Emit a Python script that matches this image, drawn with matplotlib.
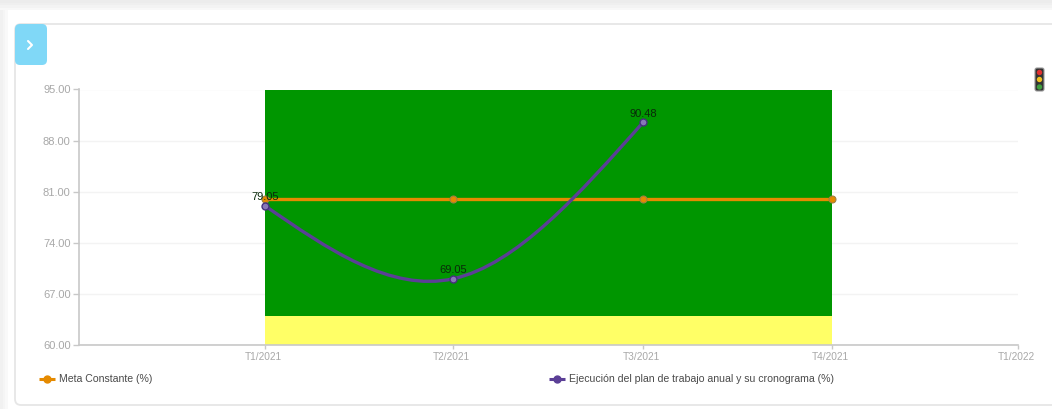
import matplotlib
matplotlib.use("Agg")
import matplotlib.pyplot as plt
import numpy as np
from matplotlib.patches import FancyBboxPatch, Rectangle, Circle
from matplotlib.path import Path
from matplotlib.patches import PathPatch
from matplotlib.transforms import ScaledTranslation

plt.rcParams['font.family'] = ['Liberation Sans', 'DejaVu Sans']

W, H = 1052, 409

quarters = ["T1/2021", "T2/2021", "T3/2021", "T4/2021", "T1/2022"]
quarter_pos = [1.0, 1.995, 3.0, 4.0, 4.985]
y_ticks = [60, 67, 74, 81, 88, 95]
meta_values = [80, 80, 80, 80]
ejecucion_values = [79.05, 69.05, 90.48]
ejecucion_labels = ["79.05", "69.05", "90.48"]
band_yellow = (60, 64)
band_green = (64, 95)
meta_name = "Meta Constante (%)"
ejecucion_name = "Ejecución del plan de trabajo anual y su cronograma (%)"

ORANGE = "#e58a00"
PURPLE = "#5b3f96"
GREEN = "#009600"
YELLOW = "#ffff66"
AXIS = "#c8c8c8"
GRID = "#f3f3f3"
TICK_TXT = "#a8a8a8"
X_MIN = 0.015


def px_rect(x0, y0, x1, y1):
    return [x0 / W, 1 - y1 / H, (x1 - x0) / W, (y1 - y0) / H]


fig = plt.figure(figsize=(W / 100, H / 100), dpi=100, facecolor="white")

# Page chrome, drawn in pixel coordinates on a full-figure layer
bg = fig.add_axes([0, 0, 1, 1], zorder=0)
bg.set_xlim(0, W)
bg.set_ylim(H, 0)
bg.axis("off")
for i, c in enumerate(["#ececec", "#efefef", "#f3f3f3", "#f8f8f8"]):
    bg.add_patch(Rectangle((0, i * 2.5), W, 2.5, fc=c, ec="none"))
for i, c in enumerate(["#f1f1f1", "#f5f5f5", "#f9f9f9"]):
    bg.add_patch(Rectangle((i * 2.7, 10), 2.7, H - 10, fc=c, ec="none"))
bg.add_patch(FancyBboxPatch((15, 24), W + 30, 381,
                            boxstyle="round,pad=0,rounding_size=6",
                            fc="white", ec="#e6e6e6", lw=1.3))
bg.add_patch(FancyBboxPatch((15, 24), 32, 41,
                            boxstyle="round,pad=0,rounding_size=5",
                            fc="#80d8f7", ec="none"))
bg.plot([28, 32, 28], [41, 45, 49], color="white", lw=1.5, solid_capstyle="round")

# Traffic light icon
bg.add_patch(FancyBboxPatch((1035, 68), 9, 23,
                            boxstyle="round,pad=0,rounding_size=2",
                            fc="#333333", ec="#9a9a9a", lw=0.8))
for cy, c in zip([72.5, 79.5, 87], ["#e03030", "#f0c020", "#3f9f3f"]):
    bg.add_patch(Circle((1039.5, cy), 2.7, fc=c, ec="none"))

ax = fig.add_axes(px_rect(79, 89.5, 1018, 344.8), zorder=1)
ax.patch.set_alpha(0)
ax.set_axisbelow(True)
ax.set_xlim(X_MIN, quarter_pos[-1])
ax.set_ylim(60, 95)

ax.set_yticks(y_ticks)
ax.set_yticklabels([f"{v:.2f}" for v in y_ticks], fontsize=8, color=TICK_TXT)
ax.set_xticks(quarter_pos)
ax.set_xticklabels(quarters, fontsize=7.3, color=TICK_TXT)
ax.tick_params(axis="both", color=AXIS, length=4, width=1, pad=2)
ax.tick_params(axis="x", length=3, pad=2)
# Quarter labels sit slightly left of their ticks
label_shift = ScaledTranslation(-2 / 100, 0, fig.dpi_scale_trans)
for lab in ax.get_xticklabels():
    lab.set_transform(lab.get_transform() + label_shift)
ax.grid(axis="y", color=GRID, lw=1, zorder=0)
for s in ("top", "right"):
    ax.spines[s].set_visible(False)
for s in ("left", "bottom"):
    ax.spines[s].set_color(AXIS)
    ax.spines[s].set_linewidth(1.2)

# Target bands span the first to the fourth quarter
span = quarter_pos[-1] - X_MIN
band_left = (quarter_pos[0] - X_MIN) / span
band_right = (quarter_pos[3] - X_MIN) / span
ax.axhspan(*band_green, xmin=band_left, xmax=band_right, fc=GREEN, ec="none", zorder=1)
ax.axhspan(*band_yellow, xmin=band_left, xmax=band_right, fc=YELLOW, ec="none", zorder=1)

# Constant target line
ax.plot(quarter_pos[:4], meta_values, color=ORANGE, lw=2.4, zorder=3,
        marker="o", ms=5, mfc=ORANGE, mec="#a08040", mew=0.8, clip_on=False)

# Execution curve: natural cubic spline through the three quarters, as Bezier segments
xs = np.array(quarter_pos[:3])
ys = np.array(ejecucion_values)
d = np.diff(ys) / np.diff(xs)
m1 = (d[0] + d[1]) / 2
slopes = [1.5 * d[0] - 0.5 * m1, m1, 1.5 * d[1] - 0.5 * m1]
verts = [(xs[0], ys[0])]
codes = [Path.MOVETO]
for i in range(2):
    h = xs[i + 1] - xs[i]
    verts += [(xs[i] + h / 3, ys[i] + slopes[i] * h / 3),
              (xs[i + 1] - h / 3, ys[i + 1] - slopes[i + 1] * h / 3),
              (xs[i + 1], ys[i + 1])]
    codes += [Path.CURVE4] * 3
ax.add_patch(PathPatch(Path(verts, codes), fc="none", ec=PURPLE, lw=2.4, zorder=4))
ax.plot(xs, ys, ls="none", marker="o", ms=5, mfc="#8878b8", mec="#46307e",
        mew=1.0, zorder=5, clip_on=False)

for x, y, txt in zip(xs, ys, ejecucion_labels):
    ax.annotate(txt, (x, y), xytext=(0, 2.5), textcoords="offset points",
                ha="center", va="bottom", fontsize=8, color="#0a2a0a", zorder=6)

# Legend entries sit on the page layer, in two fixed columns
for x0, y0, c, name in [(39, 379, ORANGE, meta_name), (549, 379, PURPLE, ejecucion_name)]:
    bg.plot([x0, x0 + 16], [y0, y0], color=c, lw=2.2, solid_capstyle="butt")
    bg.plot([x0 + 8], [y0], marker="o", ms=5, mfc=c, mec=c, color=c)
    bg.text(x0 + 20, y0, name, fontsize=7.6, color="#4a4a4a", va="center", ha="left")

fig.savefig("out.png", dpi=100)
